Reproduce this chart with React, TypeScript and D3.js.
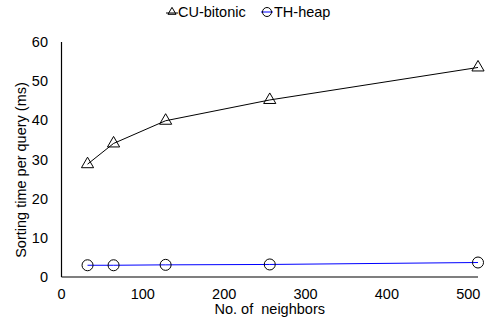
import React from "react";
import * as d3 from "d3";

const neighbors = [32, 64, 128, 256, 512];
const cuBitonic = [28.8, 34.1, 39.9, 45.2, 53.5];
const thHeap = [3.0, 3.0, 3.1, 3.2, 3.7];
const xTicks = [0, 100, 200, 300, 400, 500];
const yTicks = [0, 10, 20, 30, 40, 50, 60];
const seriesNames = ["CU-bitonic", "TH-heap"];

const W = 493;
const H = 320;
const FONT = "Liberation Sans, Arial, sans-serif";

export default function App() {
  const x = d3.scaleLinear().domain([0, 512]).range([61.5, 478]);
  const y = d3.scaleLinear().domain([0, 60]).range([277, 42]);
  const line = d3
    .line<number>()
    .x((_, i) => x(neighbors[i]))
    .y((d) => y(d));
  const tri = d3.symbol().type(d3.symbolTriangle).size(64)();
  const triSmall = d3.symbol().type(d3.symbolTriangle).size(28)();

  return (
    <svg
      width={W}
      height={H}
      style={{ position: "absolute", left: 0, top: 0, background: "#fff" }}
      fontFamily={FONT}
    >
      {/* legend */}
      <g>
        <line x1={166} x2={178} y1={13} y2={13} stroke="#000" strokeWidth={1} />
        <path d={triSmall} transform="translate(172,12)" fill="none" stroke="#000" />
        <text x={178} y={17} fontSize={14.5} fill="#000">
          {seriesNames[0]}
        </text>
        <line x1={261} x2={273} y1={12} y2={12} stroke="#0000ff" strokeWidth={1} />
        <circle cx={267} cy={12} r={4.5} fill="none" stroke="#000" />
        <text x={274} y={17} fontSize={14.5} fill="#000">
          {seriesNames[1]}
        </text>
      </g>

      {/* axes */}
      <line x1={x(0)} x2={x(0)} y1={y(60)} y2={y(0)} stroke="#000" strokeWidth={1.2} />
      <line x1={x(0)} x2={x(512)} y1={y(0)} y2={y(0)} stroke="#000" strokeWidth={1.2} />

      {yTicks.map((t) => (
        <text key={"y" + t} x={48} y={y(t) + 5} fontSize={14.5} textAnchor="end" fill="#000">
          {t}
        </text>
      ))}
      {xTicks.map((t) => (
        <text key={"x" + t} x={x(t)} y={299} fontSize={14.5} textAnchor="middle" fill="#000">
          {t}
        </text>
      ))}

      <text x={x(256)} y={314} fontSize={14.5} textAnchor="middle" fill="#000" style={{ whiteSpace: "pre" }}>
        {"No. of  neighbors"}
      </text>
      <text
        transform={`translate(26,${170}) rotate(-90)`}
        fontSize={14.5}
        textAnchor="middle"
        fill="#000"
      >
        Sorting time per query (ms)
      </text>

      {/* series */}
      <path d={line(thHeap) || ""} fill="none" stroke="#0000ff" strokeWidth={1} />
      <path d={line(cuBitonic) || ""} fill="none" stroke="#000" strokeWidth={1} />
      {cuBitonic.map((v, i) => (
        <path
          key={"t" + i}
          d={tri}
          transform={`translate(${x(neighbors[i])},${y(v)})`}
          fill="none"
          stroke="#000"
          strokeWidth={1}
        />
      ))}
      {thHeap.map((v, i) => (
        <circle key={"c" + i} cx={x(neighbors[i])} cy={y(v)} r={5.5} fill="none" stroke="#000" strokeWidth={1} />
      ))}
    </svg>
  );
}
